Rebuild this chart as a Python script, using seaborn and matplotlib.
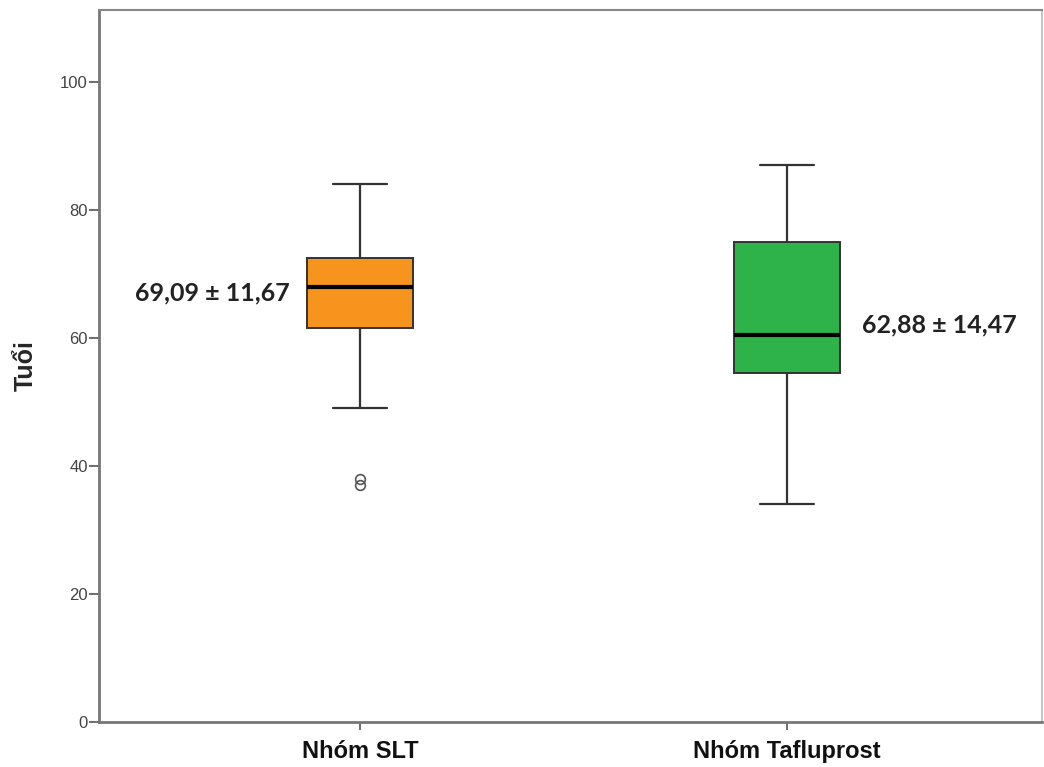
import numpy as np
import pandas as pd
import matplotlib
matplotlib.use("Agg")
import matplotlib.pyplot as plt
import seaborn as sns

# ---- data ----
groups = ["Nhóm SLT", "Nhóm Tafluprost"]
whisker_low = [49, 34]
q1 = [61.5, 54.5]
median = [68, 60.5]
q3 = [72.5, 75]
whisker_high = [84, 87]
low_outliers = [[37, 38], []]
mean_sd_labels = ["69,09 ± 11,67", "62,88 ± 14,47"]
y_ticks = [0, 20, 40, 60, 80, 100]
colors = ["#F7941D", "#2DB34A"]


def sample_from_summary(lo, a, m, b, hi, outs):
    # observations arranged so that numpy quartiles equal the summary
    k = len(outs) + 1
    vals = sorted(outs) + [lo] + [a] * k + [m] + [b] * (2 * k - 1) + [hi]
    return vals


rows = []
for i, g in enumerate(groups):
    for v in sample_from_summary(whisker_low[i], q1[i], median[i], q3[i],
                                 whisker_high[i], low_outliers[i]):
        rows.append({"group": g, "age": v})
df = pd.DataFrame(rows)

sns.set_style("white")
fig = plt.figure(figsize=(10.44, 7.67), dpi=100)
ax = fig.add_axes([99 / 1044, 45 / 767, 943 / 1044, 712 / 767])

sns.boxplot(data=df, x="group", y="age", hue="group", order=groups,
            palette=colors, saturation=1, legend=False, width=0.25, whis=1.5,
            linewidth=1.4, ax=ax,
            boxprops=dict(edgecolor="#333333"),
            whiskerprops=dict(color="#333333", linewidth=1.6),
            capprops=dict(color="#333333", linewidth=1.6),
            medianprops=dict(color="black", linewidth=3),
            flierprops=dict(marker="o", markersize=7, markerfacecolor="none",
                            markeredgecolor="#555555", markeredgewidth=1.2))

ax.set_xlim(-0.611, 1.597)
ax.set_ylim(0, 111.25)
ax.set_yticks(y_ticks)
ax.set_yticklabels([str(t) for t in y_ticks], fontsize=12, color="#444444",
                   family="Liberation Sans")
ax.set_xticks(range(len(groups)))
ax.set_xticklabels(groups, fontsize=17, fontweight="bold",
                   family="Liberation Sans", color="#111111")
ax.tick_params(axis="y", left=True, direction="out", length=7, width=1.2,
               color="#555555", pad=1)
ax.tick_params(axis="x", bottom=True, direction="out", length=6, width=1.2,
               color="#555555", pad=7)
ax.set_xlabel("")
ax.set_ylabel("Tuổi", fontsize=18, fontweight="bold", family="Liberation Sans",
              labelpad=16)

for side in ["left", "bottom"]:
    ax.spines[side].set_color("#777777")
    ax.spines[side].set_linewidth(2)
ax.spines["top"].set_color("#888888")
ax.spines["top"].set_linewidth(1.5)
ax.spines["right"].set_color("#bbbbbb")
ax.spines["right"].set_linewidth(1.2)

ax.text(-0.164, 67.0, mean_sd_labels[0], ha="right", va="center",
        fontsize=18, fontweight="bold", family="Lato", color="#222222")
ax.text(1.176, 62.0, mean_sd_labels[1], ha="left", va="center",
        fontsize=18, fontweight="bold", family="Lato", color="#222222")

fig.savefig("out.png", dpi=100)
